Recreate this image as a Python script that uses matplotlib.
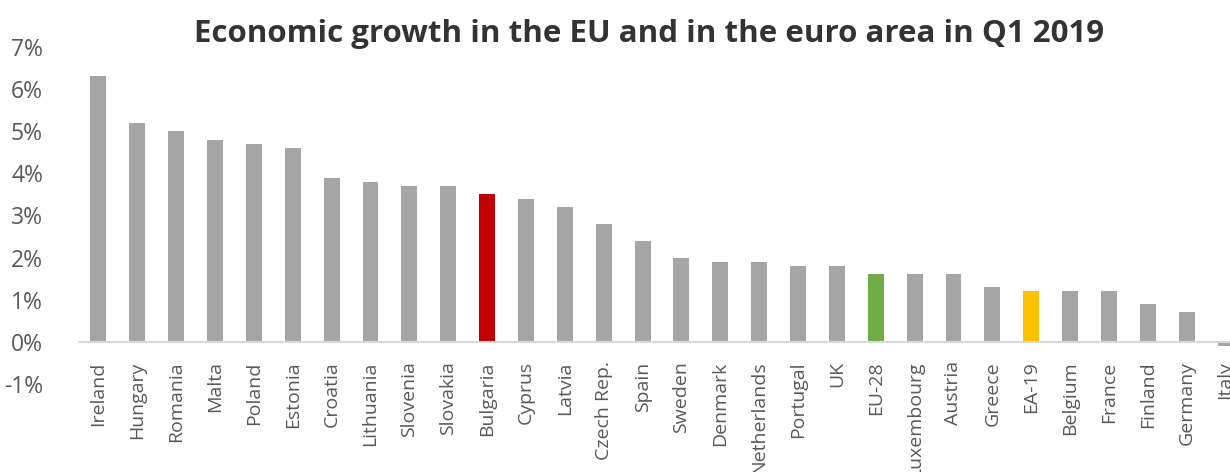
import matplotlib
matplotlib.use("Agg")
import matplotlib.pyplot as plt
from matplotlib.ticker import FuncFormatter, MultipleLocator

countries = ["Ireland", "Hungary", "Romania", "Malta", "Poland", "Estonia", "Croatia",
             "Lithuania", "Slovenia", "Slovakia", "Bulgaria", "Cyprus", "Latvia",
             "Czech Rep.", "Spain", "Sweden", "Denmark", "Netherlands", "Portugal", "UK",
             "EU-28", "Luxembourg", "Austria", "Greece", "EA-19", "Belgium", "France",
             "Finland", "Germany", "Italy"]
growth = [6.3, 5.2, 5.0, 4.8, 4.7, 4.6, 3.9, 3.8, 3.7, 3.7, 3.5, 3.4, 3.2, 2.8, 2.4,
          2.0, 1.9, 1.9, 1.8, 1.8, 1.6, 1.6, 1.6, 1.3, 1.2, 1.2, 1.2, 0.9, 0.7, -0.1]
highlight = {"Bulgaria": "#c00000", "EU-28": "#70ad47", "EA-19": "#ffc000"}
base_color = "#a5a5a5"

plt.rcParams['font.family'] = ['Open Sans', 'DejaVu Sans']

fig = plt.figure(figsize=(12.3, 4.72), dpi=100)
# axes extends beyond the right figure edge so that the last bar is cut like in the reference
ax = fig.add_axes([79 / 1230, 88 / 472, 1166 / 1230, 337 / 472])

colors = [highlight.get(c, base_color) for c in countries]
x = list(range(len(countries)))
ax.bar(x, growth, width=0.41, color=colors, zorder=2)

ax.set_xlim(-0.5, len(countries) - 0.5)
ax.set_ylim(-1, 7)
ax.yaxis.set_major_locator(MultipleLocator(1))
ax.yaxis.set_major_formatter(FuncFormatter(lambda v, p: f"{v:.0f}%"))

for s in ["top", "right", "left"]:
    ax.spines[s].set_visible(False)
ax.spines["bottom"].set_position(("data", 0))
ax.spines["bottom"].set_color("#d9d9d9")
ax.spines["bottom"].set_linewidth(1.5)
ax.spines["bottom"].set_zorder(3)

ax.set_xticks(x)
ax.set_xticklabels(countries, rotation=90, ha="center", va="top")
ax.tick_params(axis="x", length=0, pad=14, labelsize=14, labelcolor="#595959")
ax.tick_params(axis="y", length=0, pad=26, labelsize=16.5, labelcolor="#595959")

fig.text(0.528, 0.928, "Economic growth in the EU and in the euro area in Q1 2019",
         ha="center", va="center", fontsize=22.5, fontweight="bold", color="#333333")

fig.savefig("out.png", dpi=100)
